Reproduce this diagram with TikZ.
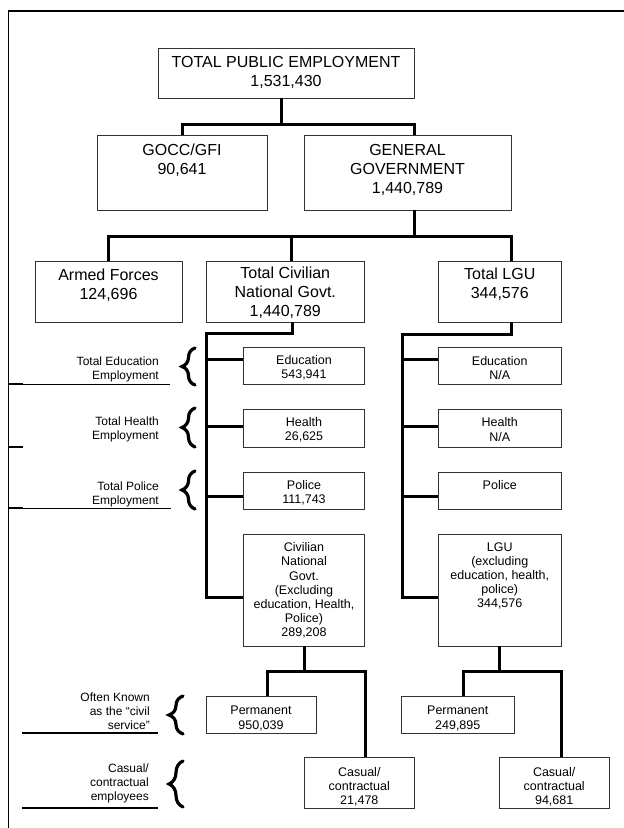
\documentclass[tikz,border=0pt]{standalone}
\usepackage{fontspec}
\setmainfont{Liberation Sans}
\usetikzlibrary{decorations.pathreplacing}
\begin{document}
\begin{tikzpicture}[x=1pt,y=-1pt,
  box/.style={draw=black!80, line width=0.9pt, fill=white, inner sep=0pt},
  conn/.style={line width=3pt, line join=miter},
  big/.style={align=center, font=\fontsize{16}{19}\selectfont, inner sep=0pt},
  small/.style={align=center, font=\fontsize{12.5}{14.2}\selectfont, inner sep=0pt},
  side/.style={align=right, anchor=east, font=\fontsize{12}{14}\selectfont, inner sep=0pt},
  brc/.style={decorate, decoration={brace, amplitude=13pt}, line width=3.2pt, line cap=round},
  brcb/.style={decorate, decoration={brace, amplitude=14pt}, line width=3.2pt, line cap=round},
  uthick/.style={line width=2pt},
  uthin/.style={line width=0.8pt}]
\useasboundingbox (0,0) rectangle (624,828);
\fill[white] (0,0) rectangle (624,828);
% frame
\draw[line width=1.8pt] (8.5,828) -- (8.5,11) -- (624,11);

% level 1 and 2
\node[box,minimum width=256,minimum height=50] (top) at (286,73) {};
\node[big] (topT) at (286,72.5) {TOTAL PUBLIC EMPLOYMENT\\1,531,430};
\node[box,minimum width=170,minimum height=75] (gocc) at (182,172.5) {};
\node[big] (goccT) at (182,160.5) {GOCC/GFI\\90,641};
\node[box,minimum width=207,minimum height=75] (gg) at (407.5,172.5) {};
\node[big] (ggT) at (407.5,170) {GENERAL\\GOVERNMENT\\1,440,789};

% level 3
\node[box,minimum width=147,minimum height=61] (armed) at (108.5,291.5) {};
\node[big] (armedT) at (108.5,285.5) {Armed Forces\\124,696};
\node[box,minimum width=158.5,minimum height=61] (civ) at (285.25,291.5) {};
\node[big] (civT) at (285.25,292.5) {Total Civilian\\National Govt.\\1,440,789};
\node[box,minimum width=122.5,minimum height=61] (lgu) at (499.75,291.5) {};
\node[big] (lguT) at (499.75,284.5) {Total LGU\\344,576};

% civilian column
\node[box,minimum width=121,minimum height=37] (edu) at (304,365.5) {};
\node[small] (eduT) at (304,368) {Education\\543,941};
\node[box,minimum width=121,minimum height=38] (hea) at (304,428) {};
\node[small] (heaT) at (304,429.5) {Health\\26,625};
\node[box,minimum width=121,minimum height=37] (pol) at (304,490.5) {};
\node[small] (polT) at (304,492.5) {Police\\111,743};
\node[box,minimum width=121,minimum height=112] (cng) at (304,590) {};
\node[small] (cngT) at (304,590.5) {Civilian\\National\\Govt.\\(Excluding\\education, Health,\\Police)\\289,208};

% LGU column
\node[box,minimum width=122.5,minimum height=37] (ledu) at (499.75,365.5) {};
\node[small] (leduT) at (499.75,368) {Education\\N/A};
\node[box,minimum width=122.5,minimum height=38] (lhea) at (499.75,428) {};
\node[small] (lheaT) at (499.75,429.5) {Health\\N/A};
\node[box,minimum width=122.5,minimum height=37] (lpol) at (499.75,490.5) {};
\node[small] (lpolT) at (499.75,485) {Police};
\node[box,minimum width=122.5,minimum height=112] (lexc) at (499.75,590) {};
\node[small] (lexcT) at (499.75,576) {LGU\\(excluding\\education, health,\\police)\\344,576};

% bottom level
\node[box,minimum width=110,minimum height=37] (perm) at (261,714.5) {};
\node[small] (permT) at (261,718.5) {Permanent\\950,039};
\node[box,minimum width=110.6,minimum height=51] (cas) at (359.3,782.5) {};
\node[small] (casT) at (359.3,786.5) {Casual/\\contractual\\21,478};
\node[box,minimum width=113.5,minimum height=37] (lperm) at (457.75,714.5) {};
\node[small] (lpermT) at (457.75,718.5) {Permanent\\249,895};
\node[box,minimum width=109.6,minimum height=51] (lcas) at (554.2,782.5) {};
\node[small] (lcasT) at (554.2,786.5) {Casual/\\contractual\\94,681};

% connectors level 1-2
\coordinate (b1T) at (281,124);
\coordinate (b1L) at (182,124);
\coordinate (b1R) at (414,124);
\draw[conn] (top.south -| b1T) -- (b1T);
\draw[conn] (gocc.north) -- (b1L) -- (b1R) -- (gg.north -| b1R);

% connectors level 2-3
\coordinate (b2T) at (414,236);
\coordinate (b2L) at (108.5,236);
\coordinate (b2M) at (291,236);
\coordinate (b2R) at (511,236);
\draw[conn] (gg.south -| b2T) -- (b2T);
\draw[conn] (armed.north) -- (b2L) -- (b2R) -- (lgu.north -| b2R);
\draw[conn] (b2M) -- (civ.north -| b2M);

% civilian spine
\coordinate (c1) at (292,333);
\coordinate (c2) at (206.5,333);
\draw[conn] (civ.south -| c1) -- (c1) -- (c2) |- ([yshift=-7pt]cng.west);
\draw[conn] ([yshift=6.5pt]edu.west) -| (c2);
\draw[conn] ([yshift=2pt]hea.west) -| (c2);
\draw[conn] ([yshift=-5.5pt]pol.west) -| (c2);

% LGU spine
\coordinate (l1) at (511,334);
\coordinate (l2) at (402,334);
\draw[conn] (lgu.south -| l1) -- (l1) -- (l2) |- ([yshift=-7pt]lexc.west);
\draw[conn] ([yshift=6.5pt]ledu.west) -| (l2);
\draw[conn] ([yshift=2pt]lhea.west) -| (l2);
\draw[conn] ([yshift=-5.5pt]lpol.west) -| (l2);

% bottom connectors
\coordinate (d1) at (304,671);
\coordinate (d1L) at (267,671);
\coordinate (d1R) at (365,671);
\draw[conn] (cng.south) -- (d1);
\draw[conn] (perm.north -| d1L) -- (d1L) -- (d1R) -- (cas.north -| d1R);
\coordinate (e1) at (499.75,671);
\coordinate (e1L) at (463,671);
\coordinate (e1R) at (561,671);
\draw[conn] (lexc.south) -- (e1);
\draw[conn] (lperm.north -| e1L) -- (e1L) -- (e1R) -- (lcas.north -| e1R);

% side labels
\node[side] (sEdu) at (159,369) {Total Education\\Employment};
\node[side] (sHea) at (159,429) {Total Health\\Employment};
\node[side] (sPol) at (159,494) {Total Police\\Employment};
\node[side] (sCiv) at (150,711.5) {Often Known\\as the “civil\\service”};
\node[side] (sCas) at (149,783) {Casual/\\contractual\\employees};

% underlines
\draw[uthick] (8.5,384) -- (23,384);
\draw[uthin] (23,384) -- (170,384);
\draw[uthick] (8.5,447) -- (23,447);
\draw[uthick] (8.5,508) -- (23,508);
\draw[uthin] (23,508) -- (171,508);
\draw[uthick] (22,733) -- (158,733);
\draw[uthick] (22,808) -- (158,808);

% braces
\draw[brc] (195,385) -- (195,348);
\draw[brc] (195,447) -- (195,408);
\draw[brc] (195,509) -- (195,471);
\draw[brcb] (183,734) -- (183,696);
\draw[brcb] (183,807) -- (183,761);
\end{tikzpicture}
\end{document}
